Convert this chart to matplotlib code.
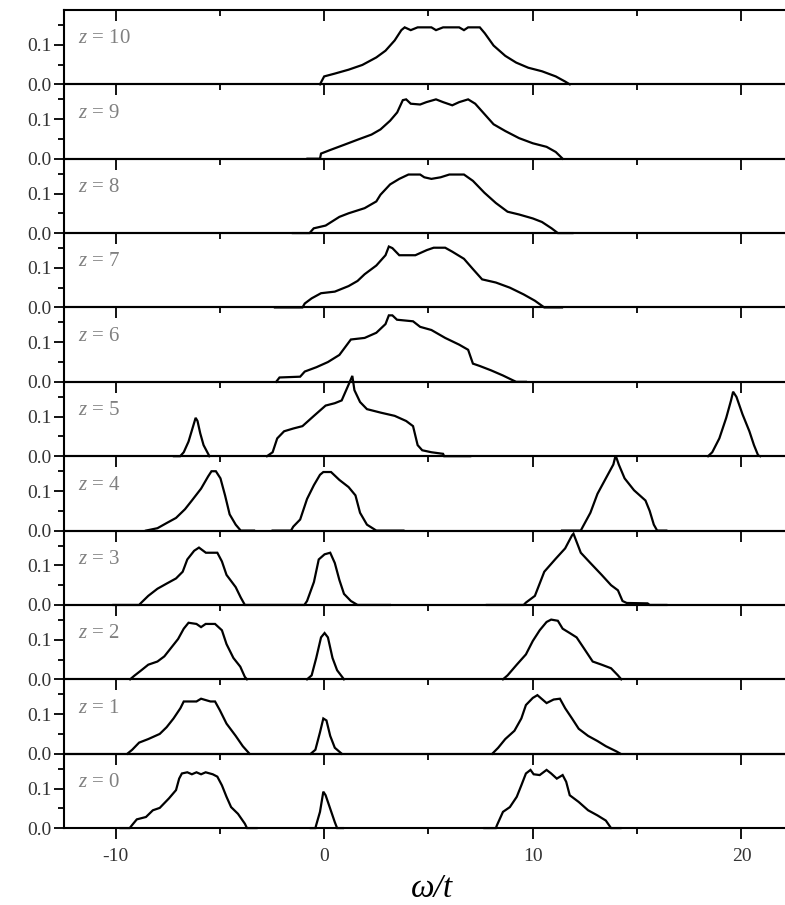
import numpy as np
import matplotlib
matplotlib.use('Agg')
import matplotlib.pyplot as plt
from matplotlib.ticker import MultipleLocator, FormatStrFormatter

plt.rcParams['font.family'] = ['Liberation Serif', 'DejaVu Serif']
plt.rcParams['mathtext.fontset'] = 'custom'
plt.rcParams['mathtext.it'] = 'Liberation Serif:italic'
plt.rcParams['mathtext.rm'] = 'Liberation Serif'
plt.rcParams['axes.unicode_minus'] = False

# spectral weight vs omega/t, one panel per z (segments of each panel)
omega_z10 = [[-0.2, 0.0, 0.5, 1.17, 1.83, 2.5, 2.94, 3.38, 3.7, 3.86, 4.15, 4.48, 5.14, 5.36, 5.7, 6.47,
              6.7, 6.9, 7.46, 7.7, 8.12, 8.68, 9.2, 9.78, 10.44, 11.1, 11.55, 11.77]]
dos_z10 = [[0, 0.02, 0.027, 0.037, 0.049, 0.068, 0.085, 0.111, 0.137, 0.144, 0.137, 0.144, 0.144, 0.137, 0.144,
            0.144, 0.137, 0.144, 0.144, 0.129, 0.098, 0.072, 0.055, 0.042, 0.033, 0.02, 0.007, 0.0]]

omega_z9 = [[-0.8, -0.2, -0.15, 0.29, 0.95, 1.6, 2.27, 2.7, 3.16, 3.5, 3.77, 3.93, 4.15, 4.6, 4.9, 5.36, 5.7,
             6.14, 6.47, 6.9, 7.24, 7.68, 8.12, 8.68, 9.34, 10.0, 10.66, 11.1, 11.43]]
dos_z9 = [[0, 0, 0.013, 0.022, 0.035, 0.048, 0.061, 0.074, 0.096, 0.117, 0.148, 0.15, 0.139, 0.137, 0.143, 0.15,
           0.143, 0.135, 0.143, 0.15, 0.139, 0.113, 0.087, 0.07, 0.052, 0.039, 0.03, 0.017, 0]]

omega_z8 = [[-1.5, -0.7, -0.5, 0.07, 0.73, 1.17, 1.94, 2.5, 2.7, 3.16, 3.6, 4.04, 4.6, 4.8, 5.14, 5.58, 6.0,
             6.7, 7.13, 7.68, 8.23, 8.79, 9.34, 10.0, 10.44, 10.9, 11.2, 11.9]]
dos_z8 = [[0, 0, 0.012, 0.019, 0.041, 0.05, 0.063, 0.08, 0.097, 0.123, 0.137, 0.148, 0.148, 0.141, 0.137, 0.141,
           0.148, 0.148, 0.132, 0.102, 0.076, 0.054, 0.047, 0.037, 0.028, 0.012, 0, 0]]

omega_z7 = [[-2.36, -1.04, -0.93, -0.6, -0.15, 0.51, 1.17, 1.6, 1.94, 2.5, 2.94, 3.1, 3.27, 3.6, 4.37, 4.92,
             5.25, 5.8, 6.14, 6.7, 7.13, 7.57, 8.23, 8.9, 9.56, 10.1, 10.55, 11.4]]
dos_z7 = [[0, 0, 0.01, 0.023, 0.036, 0.04, 0.054, 0.067, 0.084, 0.106, 0.132, 0.154, 0.15, 0.132, 0.132, 0.145,
           0.151, 0.151, 0.141, 0.123, 0.097, 0.071, 0.063, 0.05, 0.033, 0.017, 0, 0]]

omega_z6 = [[-2.3, -2.14, -1.15, -0.93, -0.37, 0.18, 0.73, 1.28, 1.94, 2.5, 2.94, 3.1, 3.27, 3.49, 4.26, 4.6,
             5.14, 5.8, 6.47, 6.9, 7.13, 7.46, 8.0, 8.57, 9.0, 9.2, 9.67]]
dos_z6 = [[0, 0.011, 0.013, 0.026, 0.037, 0.05, 0.068, 0.107, 0.111, 0.124, 0.146, 0.168, 0.168, 0.157, 0.153,
           0.139, 0.131, 0.111, 0.094, 0.081, 0.046, 0.04, 0.029, 0.016, 0.005, 0, 0]]

omega_z5 = [[-7.2, -6.9, -6.73, -6.5, -6.33, -6.16, -6.07, -5.94, -5.78, -5.5],
            [-2.74, -2.47, -2.25, -1.92, -1.48, -1.04, -0.49, 0.07, 0.51, 0.84, 1.13, 1.35, 1.45, 1.72, 2.05,
             2.72, 3.38, 3.93, 4.26, 4.48, 4.7, 5.14, 5.7, 5.75, 7.0],
            [18.4, 18.6, 18.94, 19.27, 19.5, 19.6, 19.76, 20.05, 20.38, 20.6, 20.8, 20.9]]
dos_z5 = [[0, 0, 0.01, 0.037, 0.067, 0.097, 0.089, 0.058, 0.028, 0],
          [0, 0.01, 0.045, 0.063, 0.07, 0.076, 0.102, 0.128, 0.134, 0.141, 0.176, 0.203, 0.167, 0.137, 0.119,
           0.11, 0.102, 0.089, 0.076, 0.028, 0.015, 0.01, 0.006, 0, 0],
          [0, 0.01, 0.045, 0.097, 0.141, 0.163, 0.15, 0.106, 0.063, 0.028, 0.002, 0]]

omega_z4 = [[-8.54, -7.99, -7.55, -7.1, -6.67, -6.34, -5.9, -5.56, -5.4, -5.19, -4.97, -4.75, -4.53, -4.24,
             -4.0, -3.36],
            [-2.47, -1.59, -1.48, -1.15, -0.82, -0.49, -0.2, -0.04, 0.33, 0.73, 1.17, 1.5, 1.72, 2.05, 2.5, 3.8],
            [11.4, 12.3, 12.4, 12.76, 13.1, 13.5, 13.86, 13.97, 14.12, 14.4, 14.85, 15.4, 15.6, 15.8, 15.96,
             16.4]]
dos_z4 = [[0, 0.006, 0.019, 0.032, 0.054, 0.076, 0.106, 0.137, 0.15, 0.15, 0.132, 0.089, 0.041, 0.015, 0, 0],
          [0, 0, 0.01, 0.028, 0.08, 0.115, 0.141, 0.148, 0.148, 0.128, 0.11, 0.089, 0.045, 0.015, 0, 0],
          [0, 0, 0.01, 0.045, 0.093, 0.132, 0.167, 0.19, 0.167, 0.132, 0.102, 0.076, 0.05, 0.015, 0, 0]]

omega_z3 = [[-10.1, -8.87, -8.76, -8.43, -7.99, -7.55, -7.1, -6.78, -6.56, -6.23, -6.0, -5.67, -5.12, -4.9,
             -4.68, -4.24, -4.0, -3.8, -0.95, -0.82, -0.49, -0.26, 0.02, 0.29, 0.51, 0.73, 0.95, 1.28, 1.6, 3.15],
            [7.8, 9.56, 9.67, 10.1, 10.55, 11.1, 11.55, 11.88, 11.95, 12.3, 12.76, 13.3, 13.75, 14.08, 14.3,
             14.5, 15.5, 15.6, 16.4]]
dos_z3 = [[0, 0, 0.006, 0.023, 0.041, 0.054, 0.067, 0.084, 0.115, 0.137, 0.145, 0.132, 0.132, 0.11, 0.076,
           0.045, 0.019, 0, 0, 0.01, 0.058, 0.115, 0.128, 0.132, 0.106, 0.063, 0.028, 0.01, 0, 0],
          [0, 0, 0.006, 0.023, 0.084, 0.117, 0.143, 0.176, 0.18, 0.132, 0.106, 0.076, 0.05, 0.037, 0.01, 0.005,
           0.004, 0, 0]]

omega_z2 = [[-9.3, -9.1, -8.76, -8.43, -7.99, -7.66, -7.33, -7.0, -6.73, -6.5, -6.12, -5.9, -5.68, -5.23, -4.9,
             -4.68, -4.35, -4.02, -3.8, -3.7],
            [-0.82, -0.6, -0.38, -0.15, 0.02, 0.18, 0.4, 0.62, 0.95],
            [8.57, 8.79, 9.23, 9.67, 10.0, 10.33, 10.66, 10.88, 11.2, 11.43, 11.77, 12.1, 12.43, 12.87, 13.3,
             13.75, 14.08, 14.24]]
dos_z2 = [[0, 0.009, 0.023, 0.037, 0.045, 0.058, 0.08, 0.102, 0.128, 0.143, 0.14, 0.132, 0.14, 0.14, 0.124,
           0.089, 0.054, 0.032, 0.006, 0],
          [0, 0.01, 0.054, 0.106, 0.117, 0.106, 0.054, 0.023, 0],
          [0, 0.01, 0.037, 0.063, 0.097, 0.124, 0.145, 0.151, 0.148, 0.128, 0.117, 0.106, 0.08, 0.045, 0.037,
           0.028, 0.01, 0]]

omega_z1 = [[-9.43, -9.2, -8.87, -8.43, -7.88, -7.55, -7.22, -6.89, -6.73, -6.12, -5.9, -5.45, -5.23, -5.0,
             -4.68, -4.24, -3.9, -3.58],
            [-0.64, -0.42, -0.2, -0.04, 0.11, 0.29, 0.51, 0.84],
            [8.06, 8.34, 8.68, 9.12, 9.45, 9.67, 10.0, 10.22, 10.66, 11.0, 11.3, 11.55, 11.88, 12.2, 12.65, 13.1,
             13.5, 14.0, 14.2]]
dos_z1 = [[0, 0.01, 0.028, 0.037, 0.05, 0.067, 0.089, 0.115, 0.132, 0.132, 0.139, 0.132, 0.132, 0.11, 0.076,
           0.045, 0.019, 0],
          [0, 0.01, 0.054, 0.089, 0.084, 0.045, 0.015, 0],
          [0, 0.015, 0.037, 0.058, 0.089, 0.123, 0.141, 0.148, 0.128, 0.137, 0.139, 0.115, 0.089, 0.063, 0.045,
           0.032, 0.019, 0.006, 0]]

omega_z0 = [[-9.76, -9.32, -9.2, -8.98, -8.54, -8.21, -7.88, -7.44, -7.1, -6.95, -6.82, -6.56, -6.34, -6.12,
             -5.9, -5.68, -5.34, -5.12, -4.9, -4.68, -4.46, -4.13, -3.8, -3.7, -3.24],
            [-0.64, -0.42, -0.38, -0.2, -0.04, 0.07, 0.29, 0.51, 0.62, 0.9],
            [7.68, 8.23, 8.28, 8.57, 8.9, 9.23, 9.45, 9.67, 9.89, 10.04, 10.33, 10.66, 10.88, 11.15, 11.43, 11.6,
             11.77, 12.2, 12.65, 13.1, 13.5, 13.75, 14.2]]
dos_z0 = [[0, 0, 0.008, 0.022, 0.028, 0.045, 0.051, 0.075, 0.096, 0.125, 0.138, 0.141, 0.136, 0.141, 0.136,
           0.141, 0.136, 0.13, 0.108, 0.079, 0.053, 0.036, 0.011, 0, 0],
          [0, 0, 0.008, 0.041, 0.092, 0.083, 0.049, 0.015, 0, 0],
          [0, 0, 0.007, 0.041, 0.053, 0.079, 0.108, 0.138, 0.147, 0.136, 0.134, 0.147, 0.138, 0.125, 0.134,
           0.117, 0.083, 0.066, 0.045, 0.032, 0.019, 0, 0]]

z_values = [10, 9, 8, 7, 6, 5, 4, 3, 2, 1, 0]
omegas = [omega_z10, omega_z9, omega_z8, omega_z7, omega_z6, omega_z5,
          omega_z4, omega_z3, omega_z2, omega_z1, omega_z0]
doses = [dos_z10, dos_z9, dos_z8, dos_z7, dos_z6, dos_z5,
         dos_z4, dos_z3, dos_z2, dos_z1, dos_z0]


def main():
    fig, axes = plt.subplots(len(z_values), 1, figsize=(7.85, 9.05), dpi=100, sharex=True)
    fig.subplots_adjust(left=0.0815, right=1.003, top=0.989, bottom=0.085, hspace=0)

    for i, ax in enumerate(axes):
        ax.set_facecolor('none')
        for w, d in zip(omegas[i], doses[i]):
            ax.plot(w, d, color='black', lw=1.6, clip_on=False, solid_joinstyle='miter')

        ax.set_xlim(-12.47, 22.2)
        ax.set_ylim(0, 0.188)
        for s in ax.spines.values():
            s.set_linewidth(1.5)

        ax.xaxis.set_major_locator(MultipleLocator(10))
        ax.xaxis.set_minor_locator(MultipleLocator(5))
        ax.yaxis.set_major_locator(MultipleLocator(0.1))
        ax.yaxis.set_minor_locator(MultipleLocator(0.05))
        ax.yaxis.set_major_formatter(FormatStrFormatter('%.1f'))

        ax.tick_params(axis='y', which='both', left=True, right=True, direction='out', width=1.3)
        ax.tick_params(axis='y', which='major', length=7, labelsize=14, labelcolor='#333333', pad=2)
        ax.tick_params(axis='y', which='minor', length=4.5, right=False)

        if i < len(z_values) - 1:
            ax.tick_params(axis='x', which='both', top=True, bottom=False, direction='in',
                           labelbottom=False, width=1.3)
            ax.tick_params(axis='x', which='major', length=8)
            ax.tick_params(axis='x', which='minor', length=4)
        else:
            # bottom panel: ticks out at the bottom, in at the top
            ax.tick_params(axis='x', which='both', top=False, bottom=True, direction='out', width=1.3)
            ax.tick_params(axis='x', which='major', length=8, labelsize=14, labelcolor='#333333', pad=6)
            ax.tick_params(axis='x', which='minor', length=4)
            top = ax.secondary_xaxis('top')
            top.xaxis.set_major_locator(MultipleLocator(10))
            top.xaxis.set_minor_locator(MultipleLocator(5))
            top.tick_params(axis='x', which='both', direction='in', labeltop=False, width=1.3)
            top.tick_params(axis='x', which='major', length=8)
            top.tick_params(axis='x', which='minor', length=4)
            top.spines['top'].set_linewidth(1.5)

        ax.text(0.019, 0.115, r'$z$ = %d' % z_values[i], transform=ax.get_yaxis_transform(),
                fontsize=15, color='#808080', va='center', ha='left')

    fig.text(0.55, 0.018, 'ω/t', fontsize=24, fontstyle='italic', ha='center', va='center')

    plt.savefig('out.png', dpi=100)


if __name__ == '__main__':
    main()
